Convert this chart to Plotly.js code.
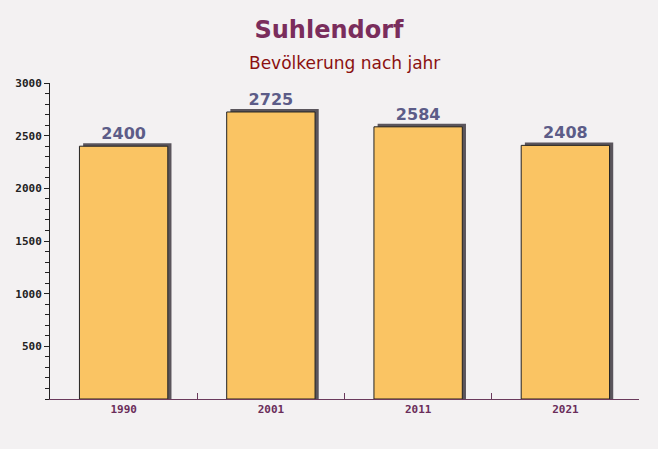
<!DOCTYPE html>
<html><head><meta charset="utf-8">
<script src="https://cdn.plot.ly/plotly-3.0.1.min.js"></script>
<style>html,body{margin:0;padding:0;background:#f3f1f2;}#chart{width:658px;height:449px;}</style>
</head><body><div id="chart"></div>
<script>
const years = ["1990", "2001", "2011", "2021"];
const population = [2400, 2725, 2584, 2408];
const yTickValues = [500, 1000, 1500, 2000, 2500, 3000];

const shadowLift = 28;
const shadow = {
  type: "bar", x: years, y: population.map(v => v + shadowLift),
  width: 0.6, offset: -0.275,
  marker: {color: "#5a555c", line: {width: 0}},
  hoverinfo: "skip", showlegend: false
};
const bars = {
  type: "bar", x: years, y: population,
  width: 0.6, offset: -0.3,
  marker: {color: "#fac463", line: {color: "#222", width: 1}},
  text: population.map(String), textposition: "outside", cliponaxis: false,
  textfont: {family: "DejaVu Sans", size: 16, color: "#5c5c88", weight: "bold"},
  showlegend: false
};
const layout = {
  width: 658, height: 449,
  paper_bgcolor: "#f3f1f2", plot_bgcolor: "rgba(0,0,0,0)",
  margin: {l: 50, r: 19, t: 83, b: 50},
  barmode: "overlay",
  title: {text: "<b>Suhlendorf</b>", x: 0.5, xanchor: "center", y: 0.935, yanchor: "middle",
          font: {family: "DejaVu Sans", size: 24, color: "#7a2d5c"}},
  annotations: [{text: "Bevölkerung nach jahr", xref: "paper", yref: "paper", x: 0.5, y: 1, yshift: 20, yanchor: "middle",
                 showarrow: false, font: {family: "DejaVu Sans", size: 17, color: "#8b1010"}}],
  xaxis: {type: "category", showgrid: false, zeroline: false, showline: true, linecolor: "#6a3a5c", linewidth: 1,
          tickson: "boundaries", ticks: "inside", ticklen: 6, tickcolor: "#6a3a5c",
          tickfont: {family: "DejaVu Sans Mono", size: 11, color: "#6a2d5a", weight: "bold"},
          range: [-0.5, 3.5]},
  yaxis: {range: [0, 3000], showgrid: false, zeroline: false, showline: true, linecolor: "#222", linewidth: 1,
          tickvals: yTickValues, ticktext: yTickValues.map(String), ticks: "outside", ticklen: 5, tickcolor: "#222",
          tickfont: {family: "DejaVu Sans Mono", size: 11, color: "#222", weight: "bold"},
          minor: {dtick: 100, ticks: "outside", ticklen: 4, tickcolor: "#222"}}
};
Plotly.newPlot("chart", [shadow, bars], layout, {displayModeBar: false, staticPlot: true});
</script></body></html>
